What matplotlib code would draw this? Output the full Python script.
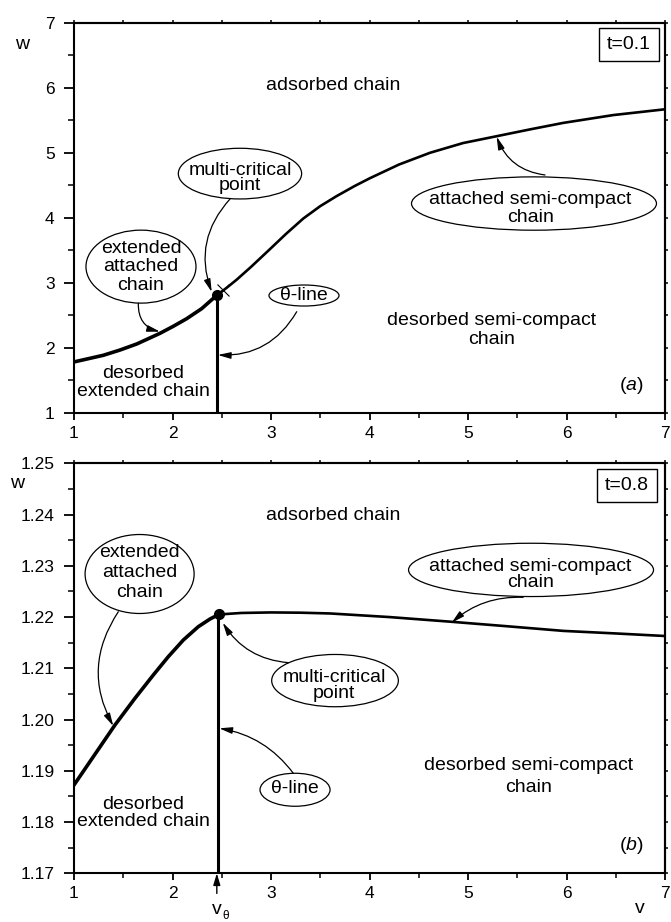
import matplotlib
matplotlib.use("Agg")
import matplotlib.pyplot as plt
from matplotlib.patches import Ellipse
from matplotlib.ticker import MultipleLocator, FormatStrFormatter

plt.rcParams['font.family'] = ['Liberation Sans', 'DejaVu Sans']
plt.rcParams['mathtext.fontset'] = 'custom'
plt.rcParams['mathtext.rm'] = 'Liberation Sans'
plt.rcParams['mathtext.it'] = 'Liberation Sans:italic'

# ---------------- data (panel a, t=0.1) ----------------
va_left = [1.0, 1.297, 1.467, 1.637, 1.873, 2.008, 2.144, 2.296, 2.45]
wa_left = [1.785, 1.887, 1.968, 2.061, 2.225, 2.333, 2.45, 2.604, 2.81]
va_right = [2.45, 2.55, 2.652, 2.8, 2.99, 3.15, 3.328, 3.5, 3.667, 3.85, 4.005,
            4.3, 4.614, 4.95, 5.291, 5.63, 5.968, 6.475, 7.0]
wa_right = [2.81, 2.925, 3.05, 3.25, 3.52, 3.75, 3.99, 4.18, 4.335, 4.49, 4.61,
            4.82, 5.0, 5.15, 5.255, 5.36, 5.46, 5.58, 5.669]
vtheta_a = 2.45
wcrit_a = 2.81
cross_a = (2.516, 2.89)

# ---------------- data (panel b, t=0.8) ----------------
vb_left = [1.0, 1.196, 1.416, 1.619, 1.805, 1.957, 2.110, 2.262, 2.381, 2.47]
wb_left = [1.18723, 1.19275, 1.19894, 1.20415, 1.20869, 1.21226, 1.21552, 1.21812,
           1.21962, 1.2205]
vb_right = [2.47, 2.7, 3.0, 3.3, 3.6, 4.2, 4.817, 5.4, 5.967, 6.5, 7.0]
wb_right = [1.2205, 1.2208, 1.2209, 1.22085, 1.2207, 1.2200, 1.2191, 1.2182,
            1.2173, 1.2168, 1.2163]
vtheta_b = 2.46
wcrit_b = 1.2205

W, H = 671, 922
fig = plt.figure(figsize=(W / 100, H / 100), dpi=100)

ax1 = fig.add_axes([74 / W, 1 - 413 / H, 591 / W, 390.3 / H])
ax2 = fig.add_axes([74 / W, 1 - 873.3 / H, 591 / W, 410 / H])

FS = 14
TFS = 12.5


def style_axes(ax, xlim, ylim, ymaj, ymin, yfmt):
    ax.set_xlim(*xlim)
    ax.set_ylim(*ylim)
    ax.xaxis.set_major_locator(MultipleLocator(1))
    ax.xaxis.set_minor_locator(MultipleLocator(0.5))
    ax.yaxis.set_major_locator(MultipleLocator(ymaj))
    ax.yaxis.set_minor_locator(MultipleLocator(ymin))
    ax.yaxis.set_major_formatter(FormatStrFormatter(yfmt))
    for s in ax.spines.values():
        s.set_linewidth(1.5)
    ax.tick_params(axis='y', which='major', direction='out', length=7.5, width=1.3,
                   labelsize=TFS, pad=6.5)
    ax.tick_params(axis='y', which='minor', direction='out', length=4, width=1.1)
    ax.tick_params(axis='x', which='major', direction='out', length=5, width=1.3,
                   labelsize=TFS, pad=4)
    ax.tick_params(axis='x', which='minor', direction='out', length=3.6, width=1.1)
    sx = ax.secondary_xaxis('top')
    sx.xaxis.set_major_locator(MultipleLocator(0.5))
    sx.tick_params(direction='out', length=2.2, width=1.1, labeltop=False)
    sx.spines['top'].set_linewidth(1.5)
    sy = ax.secondary_yaxis('right')
    sy.yaxis.set_major_locator(MultipleLocator(ymin))
    sy.tick_params(direction='out', length=2.2, width=1.1, labelright=False)
    sy.spines['right'].set_linewidth(1.5)


style_axes(ax1, (1, 7), (1, 7), 1, 0.5, '%d')
style_axes(ax2, (1, 7), (1.17, 1.25), 0.01, 0.005, '%.2f')

ARW = dict(arrowstyle='-|>,head_length=0.55,head_width=0.14', lw=0.9,
           color='black', shrinkA=0, shrinkB=0, mutation_scale=14)


def arrow(ax, start, end, rad):
    ax.annotate('', xy=end, xytext=start,
                arrowprops=dict(ARW, connectionstyle=f'arc3,rad={rad}'))


def ell(ax, c, w, h):
    ax.add_patch(Ellipse(c, w, h, fill=False, lw=0.9, ec='black', zorder=3))


# ================= panel (a) =================
ax1.plot(va_left, wa_left, color='black', lw=2.6, solid_joinstyle='round', zorder=4)
ax1.plot(va_right, wa_right, color='black', lw=1.9, solid_joinstyle='round', zorder=4)
ax1.plot([vtheta_a, vtheta_a], [1, wcrit_a], color='black', lw=2.2, zorder=4)
ax1.plot([vtheta_a], [wcrit_a], 'o', color='black', ms=7, zorder=5)
ax1.plot([cross_a[0]], [cross_a[1]], 'x', color='black', ms=8, mew=0.8, zorder=5)

ax1.text(3.635, 6.04, 'adsorbed chain', fontsize=FS, ha='center', va='center')
ax1.text(5.24, 2.276, 'desorbed semi-compact\nchain', fontsize=FS, ha='center',
         va='center', linespacing=1.2)
ax1.text(1.70, 1.466, 'desorbed\nextended chain', fontsize=FS, ha='center',
         va='center', linespacing=1.03)

ell(ax1, (2.685, 4.68), 1.252, 0.779)
ax1.text(2.685, 4.61, 'multi-critical\npoint', fontsize=FS, ha='center', va='center',
         linespacing=0.85)
ell(ax1, (1.68, 3.25), 1.117, 1.122)
ax1.text(1.68, 3.25, 'extended\nattached\nchain', fontsize=FS, ha='center',
         va='center', linespacing=1.12)
ell(ax1, (3.335, 2.806), 0.711, 0.323)
ax1.text(3.335, 2.81, 'θ-line', fontsize=FS, ha='center', va='center')
ell(ax1, (5.67, 4.22), 2.487, 0.82)
ax1.text(5.635, 4.14, 'attached semi-compact\nchain', fontsize=FS, ha='center',
         va='center', linespacing=1.1)

arrow(ax1, (2.584, 4.29), (2.398, 2.86), 0.3)
arrow(ax1, (1.653, 2.686), (1.873, 2.25), 0.4)
arrow(ax1, (3.261, 2.557), (2.46, 1.892), -0.3)
arrow(ax1, (5.782, 4.659), (5.291, 5.248), -0.3)

ax1.text(0.976, 0.966, 't=0.1', transform=ax1.transAxes, fontsize=FS, ha='right',
         va='top', bbox=dict(boxstyle='square,pad=0.4', fc='white', ec='black', lw=1.0))
ax1.text(6.66, 1.43, r'($\mathit{a}$)', fontsize=FS, ha='center', va='center')
ax1.text(-0.088, 0.943, 'w', transform=ax1.transAxes, fontsize=FS, ha='center', va='center')

# ================= panel (b) =================
ax2.plot(vb_left, wb_left, color='black', lw=2.6, solid_joinstyle='round', zorder=4)
ax2.plot(vb_right, wb_right, color='black', lw=1.9, solid_joinstyle='round', zorder=4)
ax2.plot([vtheta_b, vtheta_b], [1.17, wcrit_b], color='black', lw=2.2, zorder=4)
ax2.plot([2.47], [wcrit_b], 'o', color='black', ms=7, zorder=5)

ax2.text(3.63, 1.2399, 'adsorbed chain', fontsize=FS, ha='center', va='center')
ax2.text(5.61, 1.1889, 'desorbed semi-compact\nchain', fontsize=FS, ha='center',
         va='center', linespacing=1.34)
ax2.text(1.70, 1.1818, 'desorbed\nextended chain', fontsize=FS, ha='center',
         va='center', linespacing=1.0)

ell(ax2, (1.666, 1.2284), 1.107, 0.01541)
ax2.text(1.666, 1.2286, 'extended\nattached\nchain', fontsize=FS, ha='center',
         va='center', linespacing=1.23)
ell(ax2, (3.65, 1.2076), 1.286, 0.0102)
ax2.text(3.64, 1.2066, 'multi-critical\npoint', fontsize=FS, ha='center',
         va='center', linespacing=0.95)
ell(ax2, (3.244, 1.1863), 0.711, 0.00644)
ax2.text(3.244, 1.1866, 'θ-line', fontsize=FS, ha='center', va='center')
ell(ax2, (5.64, 1.2292), 2.487, 0.0104)
ax2.text(5.636, 1.22826, 'attached semi-compact\nchain', fontsize=FS, ha='center',
         va='center', linespacing=0.9)

arrow(ax2, (1.45, 1.22104), (1.399, 1.19874), 0.3)
arrow(ax2, (3.176, 1.2111), (2.51, 1.2189), -0.25)
arrow(ax2, (3.227, 1.18951), (2.475, 1.19829), 0.2)
arrow(ax2, (5.56, 1.22385), (4.834, 1.2189), 0.2)

ax2.text(0.9727, 0.9663, 't=0.8', transform=ax2.transAxes, fontsize=FS, ha='right',
         va='top', bbox=dict(boxstyle='square,pad=0.4', fc='white', ec='black', lw=1.0))
ax2.text(6.66, 1.1755, r'($\mathit{b}$)', fontsize=FS, ha='center', va='center')
ax2.text(-0.0964, 0.951, 'w', transform=ax2.transAxes, fontsize=FS, ha='center', va='center')
ax2.text(0.9577, -0.0854, 'v', transform=ax2.transAxes, fontsize=FS, ha='center', va='center')

# v_theta marker below the axis
ax2.annotate('', xy=(vtheta_b - 0.01, 1.17), xycoords='data',
             xytext=(0, -14.5), textcoords='offset points',
             arrowprops=dict(arrowstyle='-|>,head_length=0.5,head_width=0.15', lw=1.0,
                             color='black', shrinkA=0, shrinkB=0, mutation_scale=14),
             annotation_clip=False)
tr = ax2.get_xaxis_transform()
ax2.text(vtheta_b - 0.01, -0.0875, 'v', transform=tr, fontsize=FS, ha='center',
         va='center', clip_on=False)
ax2.text(vtheta_b + 0.085, -0.104, 'θ', transform=tr, fontsize=8.5, ha='center',
         va='center', clip_on=False)

fig.savefig('out.png', dpi=100)
